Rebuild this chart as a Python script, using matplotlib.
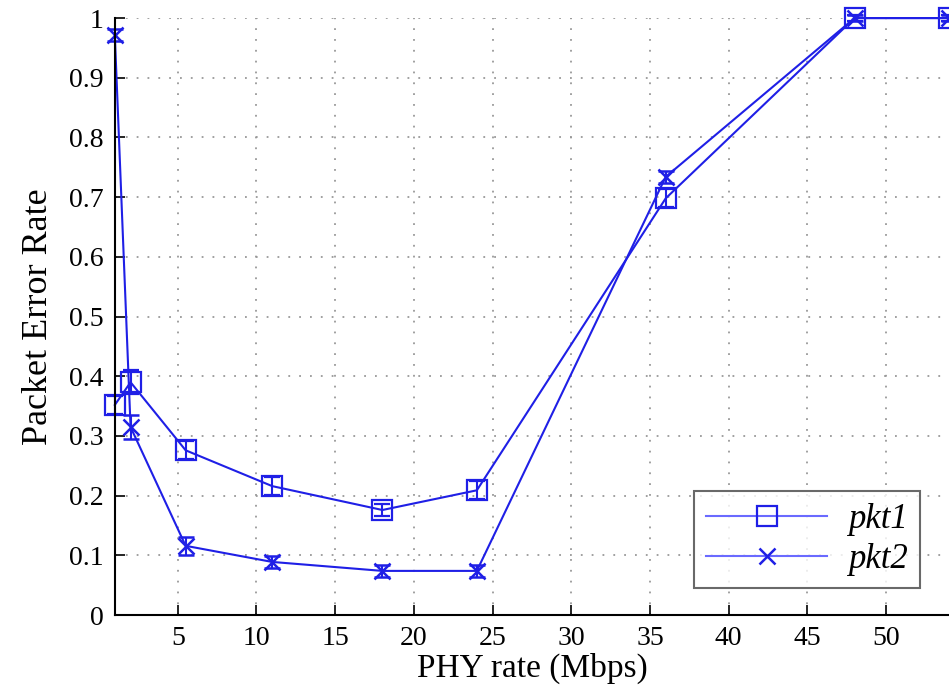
import matplotlib
matplotlib.use('Agg')
import matplotlib.pyplot as plt
from matplotlib.ticker import FormatStrFormatter

# PHY rates (Mbps) and packet error rates
rates = [1, 2, 5.5, 11, 18, 24, 36, 48, 54]
pkt1 = [0.352, 0.390, 0.276, 0.216, 0.176, 0.209, 0.698, 1.0, 1.0]
pkt2 = [0.971, 0.315, 0.116, 0.089, 0.074, 0.074, 0.734, 1.0, 1.0]
err1 = [0.015, 0.02, 0.015, 0.015, 0.01, 0.015, 0.015, 0.005, 0.005]
err2 = [0.01, 0.02, 0.015, 0.01, 0.01, 0.01, 0.01, 0.005, 0.005]

plt.rcParams['font.family'] = ['Liberation Serif', 'DejaVu Serif']

fig = plt.figure(figsize=(9.49, 6.95), dpi=100)
ax = fig.add_axes([0.121, 0.115, 0.879, 0.859])

blue = '#1f1fe6'
ax.errorbar(rates, pkt1, yerr=err1, color=blue, marker='s', markersize=14,
            markerfacecolor='none', markeredgewidth=1.6, linewidth=1.5,
            capsize=6, elinewidth=1.5, label='pkt1', clip_on=False)
ax.errorbar(rates, pkt2, yerr=err2, color=blue, marker='x', markersize=12,
            markeredgewidth=1.8, linewidth=1.5,
            capsize=6, elinewidth=1.5, label='pkt2', clip_on=False)

ax.set_xlim(1, 54)
ax.set_ylim(0, 1)
ax.set_xticks([5, 10, 15, 20, 25, 30, 35, 40, 45, 50])
ax.set_yticks([0, 0.1, 0.2, 0.3, 0.4, 0.5, 0.6, 0.7, 0.8, 0.9, 1.0])
ax.yaxis.set_major_formatter(FormatStrFormatter('%g'))
ax.tick_params(direction='in', length=7, width=1.2, labelsize=20, pad=8)
ax.spines['top'].set_visible(False)
ax.spines['right'].set_visible(False)
ax.spines['left'].set_linewidth(1.5)
ax.spines['bottom'].set_linewidth(1.5)
ax.grid(True, linestyle=(0, (1, 5)), color='#999999', linewidth=1.3)

ax.set_xlabel('PHY rate (Mbps)', fontsize=24, labelpad=1)
ax.set_ylabel('Packet Error Rate', fontsize=26, labelpad=10)

h, l = ax.get_legend_handles_labels()
leg = ax.legend([hh[0] for hh in h], l, loc='lower right',
                bbox_to_anchor=(0.978, 0.028), fancybox=False, edgecolor='#444444',
                handlelength=3.5, handletextpad=0.6, borderpad=0.35, labelspacing=0.2,
                borderaxespad=0.3, prop={'style': 'italic', 'size': 25})
leg.get_frame().set_linewidth(1.5)
for line in leg.get_lines():
    line.set_color('#6a6aff')
    line.set_markeredgecolor(blue)

fig.savefig('out.png', dpi=100)
